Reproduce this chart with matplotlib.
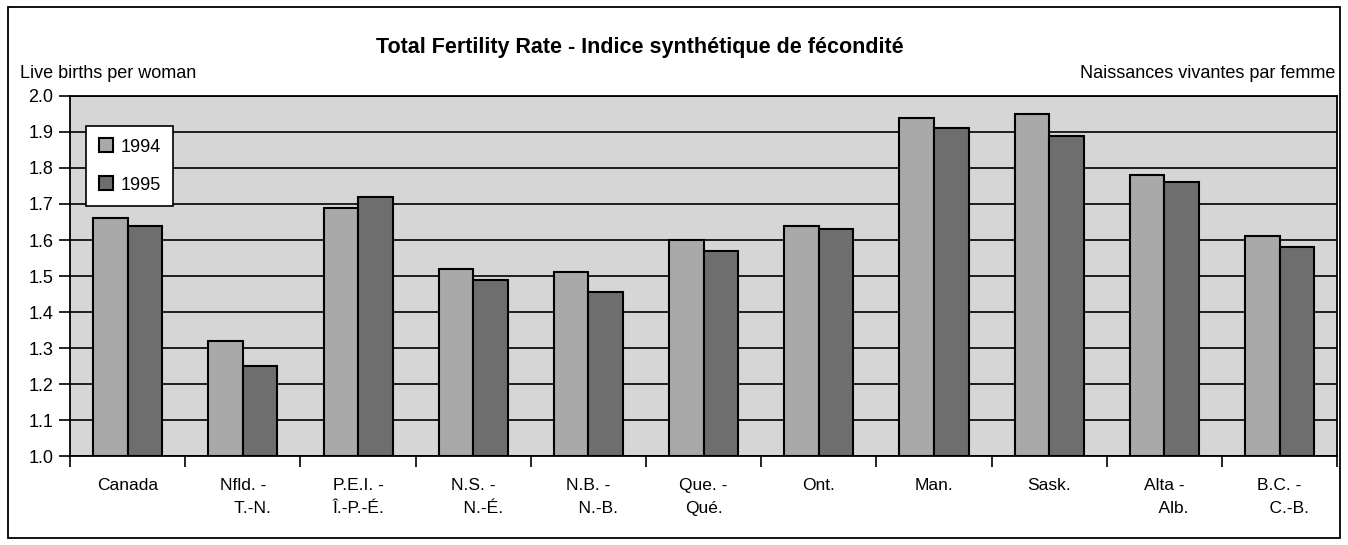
import matplotlib.pyplot as plt
import numpy as np
from matplotlib.patches import Rectangle

plt.rcParams['font.family'] = ['Liberation Sans', 'DejaVu Sans']

# data
provinces = ["Canada", "Nfld. -\n    T.-N.", "P.E.I. -\nÎ.-P.-É.", "N.S. -\n    N.-É.",
             "N.B. -\n    N.-B.", "Que. -\nQué.", "Ont.", "Man.", "Sask.",
             "Alta -\n    Alb.", "B.C. -\n    C.-B."]
tfr_1994 = [1.66, 1.32, 1.69, 1.52, 1.51, 1.60, 1.64, 1.94, 1.95, 1.78, 1.61]
tfr_1995 = [1.64, 1.25, 1.72, 1.49, 1.455, 1.57, 1.63, 1.91, 1.89, 1.76, 1.58]
yticks = [1.0, 1.1, 1.2, 1.3, 1.4, 1.5, 1.6, 1.7, 1.8, 1.9, 2.0]

fig = plt.figure(figsize=(13.48, 5.45), dpi=100)
ax = fig.add_axes([0.052, 0.163, 0.940, 0.661])

# outer frame round the whole chart
fig.patches.append(Rectangle((0.006, 0.013), 0.988, 0.975, transform=fig.transFigure,
                             fill=False, edgecolor='black', linewidth=1.3))

x = np.arange(len(provinces))
w = 0.3
ax.set_facecolor('#d6d6d6')
ax.bar(x - w/2, np.array(tfr_1994) - 1.0, w, bottom=1.0, color='#a9a9a9',
       edgecolor='black', linewidth=1.5, label='1994', zorder=3)
ax.bar(x + w/2, np.array(tfr_1995) - 1.0, w, bottom=1.0, color='#6e6e6e',
       edgecolor='black', linewidth=1.5, label='1995', zorder=3)

ax.set_ylim(1.0, 2.0)
ax.set_xlim(-0.5, len(provinces) - 0.5)
ax.set_yticks(yticks)
ax.set_yticklabels([f"{v:.1f}" for v in yticks], fontsize=13)
ax.yaxis.grid(True, color='black', linewidth=1.2, zorder=1)
ax.set_axisbelow(True)

ax.set_xticks(x)
ax.set_xticklabels(provinces, fontsize=12.5, linespacing=1.6, va='top')
ax.tick_params(axis='x', which='major', length=0, pad=16)
ax.set_xticks(np.arange(len(provinces) + 1) - 0.5, minor=True)
ax.tick_params(axis='x', which='minor', length=8, width=1.2, direction='out')
ax.tick_params(axis='y', length=8, width=1.2, direction='out', pad=4)
for s in ax.spines.values():
    s.set_linewidth(1.3)

leg = ax.legend(loc='upper left', bbox_to_anchor=(0.0125, 0.917), fontsize=13,
                frameon=True, fancybox=False, edgecolor='black', framealpha=1,
                handlelength=0.8, handleheight=0.8, handletextpad=0.4,
                labelspacing=1.15, borderpad=0.7, borderaxespad=0)
leg.get_frame().set_linewidth(1.2)
leg.set_zorder(5)

fig.text(0.475, 0.912, "Total Fertility Rate - Indice synthétique de fécondité",
         ha='center', va='center', fontsize=15.5, fontweight='bold')
fig.text(0.015, 0.866, "Live births per woman", ha='left', va='center', fontsize=13)
fig.text(0.991, 0.866, "Naissances vivantes par femme", ha='right', va='center', fontsize=13)

fig.savefig('out.png', dpi=100)
